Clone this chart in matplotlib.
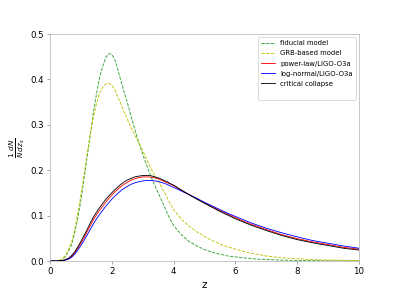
import matplotlib
matplotlib.use("Agg")
import matplotlib.pyplot as plt

z = [0.0, 0.1, 0.2, 0.3, 0.4, 0.5, 0.6, 0.7, 0.8, 0.9,
     1.0, 1.1, 1.2, 1.3, 1.4, 1.5, 1.6, 1.7, 1.8, 1.9,
     2.0, 2.1, 2.2, 2.3, 2.4, 2.5, 2.6, 2.7, 2.8, 2.9,
     3.0, 3.1, 3.2, 3.3, 3.4, 3.5, 3.6, 3.7, 3.8, 3.9, 4.0,
     4.25, 4.5, 4.75, 5.0, 5.25, 5.5, 5.75, 6.0,
     6.5, 7.0, 7.5, 8.0, 8.5, 9.0, 9.5, 10.0]

fiducial = [0, 0, 0, 0.001, 0.004, 0.010, 0.022, 0.036, 0.062, 0.095,
            0.133, 0.18, 0.228, 0.275, 0.325, 0.366, 0.402, 0.427, 0.447, 0.456,
            0.455, 0.443, 0.42, 0.395, 0.372, 0.349, 0.325, 0.3, 0.277, 0.255,
            0.235, 0.216, 0.198, 0.18, 0.165, 0.15, 0.135, 0.12, 0.104, 0.090, 0.078,
            0.058, 0.043, 0.033, 0.025, 0.019, 0.015, 0.011, 0.009,
            0.005, 0.003, 0.002, 0.001, 0.0006, 0.0003, 0.0002, 0.0001]
grb = [0, 0, 0.0003, 0.0015, 0.005, 0.012, 0.025, 0.042, 0.07, 0.105,
       0.145, 0.19, 0.235, 0.278, 0.315, 0.345, 0.368, 0.382, 0.389, 0.391,
       0.387, 0.377, 0.36, 0.345, 0.328, 0.312, 0.297, 0.283, 0.27, 0.257,
       0.243, 0.228, 0.213, 0.199, 0.187, 0.176, 0.164, 0.151, 0.138, 0.125, 0.113,
       0.092, 0.077, 0.064, 0.054, 0.045, 0.037, 0.031, 0.026,
       0.017, 0.011, 0.007, 0.005, 0.003, 0.002, 0.0015, 0.001]
powerlaw = [0, 0, 0, 0.0004, 0.001, 0.0025, 0.005, 0.010, 0.018, 0.028,
            0.039, 0.051, 0.064, 0.077, 0.090, 0.101, 0.111, 0.120, 0.129, 0.137,
            0.145, 0.152, 0.158, 0.164, 0.169, 0.173, 0.177, 0.180, 0.182, 0.184,
            0.185, 0.185, 0.185, 0.184, 0.183, 0.181, 0.178, 0.175, 0.172, 0.169, 0.166,
            0.156, 0.146, 0.137, 0.128, 0.119, 0.111, 0.103, 0.095,
            0.081, 0.069, 0.058, 0.049, 0.042, 0.036, 0.030, 0.026]
lognormal = [0, 0, 0, 0.0003, 0.0008, 0.002, 0.004, 0.008, 0.015, 0.024,
             0.034, 0.045, 0.057, 0.069, 0.081, 0.092, 0.102, 0.111, 0.120, 0.128,
             0.136, 0.143, 0.149, 0.155, 0.160, 0.164, 0.168, 0.171, 0.173, 0.175,
             0.176, 0.177, 0.177, 0.177, 0.176, 0.175, 0.173, 0.171, 0.168, 0.165, 0.162,
             0.154, 0.146, 0.138, 0.129, 0.121, 0.113, 0.105, 0.098,
             0.084, 0.072, 0.062, 0.053, 0.045, 0.039, 0.033, 0.028]
critical = [0, 0, 0, 0.0005, 0.001, 0.003, 0.006, 0.012, 0.02, 0.031,
            0.043, 0.056, 0.069, 0.083, 0.096, 0.107, 0.117, 0.126, 0.135, 0.143,
            0.150, 0.157, 0.163, 0.169, 0.174, 0.178, 0.181, 0.184, 0.186, 0.187,
            0.188, 0.188, 0.188, 0.187, 0.185, 0.183, 0.180, 0.177, 0.174, 0.170, 0.167,
            0.156, 0.146, 0.136, 0.127, 0.118, 0.109, 0.101, 0.093,
            0.079, 0.067, 0.056, 0.047, 0.040, 0.034, 0.028, 0.024]

fig = plt.figure(figsize=(6.4, 4.8), dpi=399 / 6.4)
ax = fig.add_axes([50 / 399, 1 - 261 / 299, 309 / 399, 227 / 299])

ax.plot(z, fiducial, '--', color='tab:green', lw=1, label='fiducial model')
ax.plot(z, grb, '--', color='y', lw=1, label='GRB-based model')
ax.plot(z, powerlaw, color='r', lw=1, label='power-law/LIGO-O3a')
ax.plot(z, lognormal, color='b', lw=1, label='log-normal/LIGO-O3a')
ax.plot(z, critical, color='k', lw=1, label='critical collapse')
# empty entry, the original legend leaves a blank row at the bottom
ax.plot([], [], ' ', label=' ')

ax.set_xlim(0, 10)
ax.set_ylim(0, 0.5)
ax.set_xlabel('z', fontsize=12)
ax.set_ylabel(r'$\frac{1}{N}\frac{dN}{dz_s}$', fontsize=12)
for s in ax.spines.values():
    s.set_color('#b0b0b0')
ax.tick_params(color='#808080')
ax.legend(loc='upper right', fontsize=8, labelspacing=0.6)

fig.savefig('out.png', dpi=399 / 6.4)
